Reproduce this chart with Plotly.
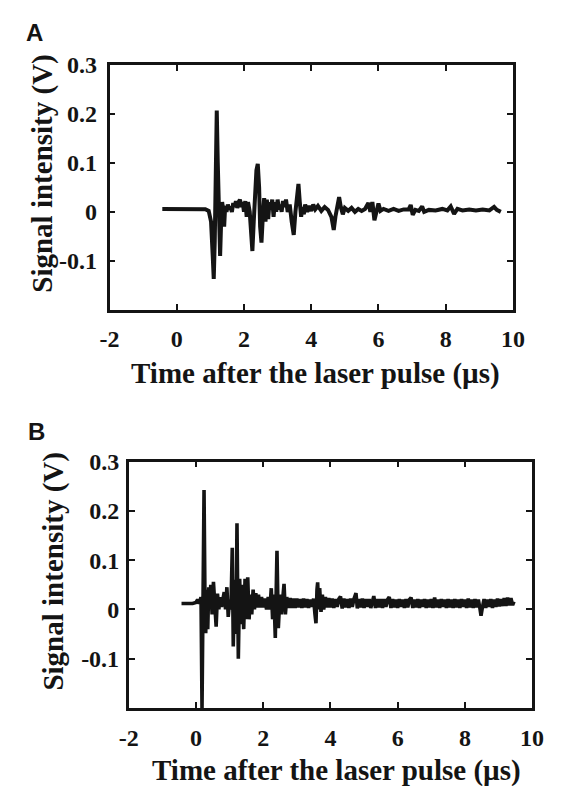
import plotly.graph_objects as go

# ---------------- data ----------------
a_time = [-0.43, -0.2, 0.2, 0.6, 0.85, 0.95, 1.02, 1.07, 1.10, 1.13, 1.16, 1.19, 1.22, 1.25, 1.29,
          1.32, 1.35, 1.38, 1.41, 1.44, 1.48, 1.52, 1.56, 1.60, 1.64, 1.68, 1.72, 1.76, 1.80, 1.84,
          1.88, 1.92, 1.96, 2.00, 2.04, 2.08, 2.12, 2.17, 2.21, 2.25, 2.29, 2.33, 2.37, 2.41, 2.45,
          2.48, 2.52, 2.56, 2.60, 2.64, 2.68, 2.72, 2.76, 2.80, 2.84, 2.88, 2.92, 2.96, 3.00, 3.04,
          3.08, 3.12, 3.16, 3.20, 3.25, 3.30, 3.36, 3.42, 3.48, 3.53, 3.58, 3.62, 3.66, 3.70, 3.74,
          3.78, 3.82, 3.88, 3.94, 4.00, 4.06, 4.12, 4.20, 4.30, 4.40, 4.50, 4.60, 4.67, 4.72, 4.78,
          4.83, 4.88, 4.94, 5.00, 5.10, 5.20, 5.30, 5.40, 5.50, 5.60, 5.70, 5.76, 5.82, 5.88, 5.94,
          6.00, 6.06, 6.15, 6.30, 6.45, 6.60, 6.75, 6.90, 6.96, 7.02, 7.10, 7.20, 7.30, 7.36, 7.50,
          7.70, 7.90, 8.05, 8.15, 8.25, 8.35, 8.50, 8.70, 8.90, 9.10, 9.30, 9.44, 9.52, 9.64]
a_signal = [0.006, 0.0062, 0.006, 0.006, 0.0055, 0.002, -0.02, -0.09, -0.137, -0.06, 0.10, 0.207, 0.10, -0.02, -0.09,
            -0.02, 0.02, 0.005, -0.03, 0.012, 0.0, 0.015, 0.005, 0.01, 0.0, 0.018, 0.01, 0.022, 0.008, 0.02,
            0.025, 0.01, 0.02, 0.0, 0.022, -0.01, 0.02, 0.0, -0.04, -0.08, -0.02, 0.05, 0.085, 0.098, 0.05,
            -0.03, -0.063, -0.01, 0.028, -0.02, 0.025, -0.015, 0.02, 0.005, 0.025, -0.01, 0.02, 0.0, 0.025, 0.005,
            0.015, 0.0, 0.022, 0.01, 0.025, 0.0, 0.015, -0.02, -0.047, 0.0, 0.045, 0.057, 0.02, -0.01, 0.01,
            -0.005, 0.015, 0.0, 0.012, 0.002, 0.015, 0.005, 0.012, 0.002, 0.01, 0.004, -0.01, -0.037, -0.01, 0.02,
            0.03, 0.01, -0.005, 0.008, 0.002, 0.008, 0.0, 0.006, 0.002, 0.006, 0.018, 0.0, 0.02, -0.017, 0.0,
            0.017, 0.002, 0.006, 0.002, 0.006, 0.002, 0.005, 0.005, 0.014, -0.006, 0.004, 0.002, 0.011, 0.0, 0.004,
            0.003, 0.006, 0.003, 0.011, -0.004, 0.006, 0.003, 0.005, 0.003, 0.005, 0.003, 0.01, 0.004, 0.0]

b_time = [-0.43, -0.3, -0.1, 0.0, 0.05, 0.10, 0.15, 0.18, 0.21, 0.24, 0.27, 0.29, 0.32, 0.35, 0.38,
          0.41, 0.44, 0.48, 0.52, 0.56, 0.60, 0.64, 0.68, 0.72, 0.76, 0.80, 0.84, 0.88, 0.92, 0.96,
          1.00, 1.04, 1.08, 1.11, 1.15, 1.19, 1.22, 1.26, 1.30, 1.34, 1.38, 1.42, 1.46, 1.50, 1.54,
          1.58, 1.62, 1.66, 1.70, 1.74, 1.78, 1.82, 1.86, 1.90, 1.95, 2.00, 2.05, 2.10, 2.15, 2.20,
          2.24, 2.28, 2.32, 2.36, 2.41, 2.45, 2.50, 2.54, 2.58, 2.62, 2.66, 2.70, 2.75, 2.80, 2.85,
          2.90, 2.95, 3.00, 3.05, 3.10, 3.15, 3.20, 3.25, 3.30, 3.35, 3.40, 3.45, 3.50, 3.54, 3.57,
          3.60, 3.62, 3.65, 3.68, 3.72, 3.76, 3.80, 3.85, 3.90, 3.95, 4.00, 4.05, 4.10, 4.15, 4.20,
          4.25, 4.30, 4.35, 4.40, 4.45, 4.50, 4.55, 4.60, 4.65, 4.70, 4.76, 4.80, 4.85, 4.90, 4.95,
          5.00, 5.05, 5.10, 5.15, 5.20, 5.25, 5.29, 5.34, 5.40, 5.45, 5.50, 5.55, 5.60, 5.65, 5.70,
          5.75, 5.80, 5.85, 5.90, 5.95, 6.00, 6.05, 6.10, 6.15, 6.20, 6.25, 6.30, 6.35, 6.40, 6.45,
          6.50, 6.55, 6.60, 6.65, 6.70, 6.75, 6.80, 6.85, 6.90, 6.95, 7.00, 7.05, 7.10, 7.15, 7.20,
          7.25, 7.30, 7.35, 7.40, 7.45, 7.50, 7.55, 7.60, 7.65, 7.70, 7.75, 7.80, 7.85, 7.90, 7.95,
          8.00, 8.05, 8.10, 8.15, 8.20, 8.25, 8.30, 8.35, 8.40, 8.45, 8.48, 8.52, 8.57, 8.62, 8.67,
          8.72, 8.77, 8.82, 8.87, 8.92, 8.97, 9.02, 9.07, 9.12, 9.17, 9.22, 9.27, 9.32, 9.37, 9.42,
          9.46]
b_signal = [0.012, 0.012, 0.012, 0.014, 0.02, 0.012, 0.025, -0.2, 0.0, 0.242, 0.0, -0.048, 0.04, -0.04, 0.045,
            0.0, 0.05, -0.01, 0.056, 0.0, -0.035, 0.032, 0.0, 0.025, 0.005, 0.02, 0.035, 0.0, 0.045, -0.015,
            0.02, 0.0, 0.125, -0.075, 0.06, -0.05, 0.175, -0.1, 0.062, -0.03, 0.05, -0.04, 0.062, -0.02, 0.065,
            -0.02, 0.03, -0.01, 0.04, 0.0, 0.033, 0.004, 0.03, 0.004, 0.025, 0.004, 0.022, 0.0, 0.025, 0.0,
            0.043, -0.02, 0.03, -0.058, 0.119, -0.038, 0.03, -0.01, 0.02, 0.052, -0.01, 0.025, 0.003, 0.023, 0.003,
            0.022, 0.003, 0.022, 0.004, 0.021, 0.003, 0.022, 0.004, 0.021, 0.003, 0.02, 0.005, 0.022, -0.01, -0.028,
            0.04, 0.055, 0.0, 0.043, -0.005, 0.03, 0.0, 0.025, 0.004, 0.023, 0.004, 0.022, 0.003, 0.021, 0.005,
            0.021, 0.026, 0.002, 0.022, 0.004, 0.021, 0.003, 0.022, 0.005, 0.021, 0.033, 0.002, 0.021, 0.004, 0.022,
            0.003, 0.021, 0.005, 0.021, 0.003, 0.021, 0.027, 0.003, 0.021, 0.004, 0.021, 0.003, 0.021, 0.005, 0.02,
            0.025, 0.003, 0.021, 0.004, 0.02, 0.003, 0.021, 0.005, 0.02, 0.003, 0.021, 0.004, 0.02, 0.024, 0.003,
            0.02, 0.004, 0.021, 0.003, 0.02, 0.005, 0.021, 0.003, 0.02, 0.004, 0.021, 0.003, 0.024, 0.004, 0.02,
            0.003, 0.021, 0.005, 0.02, 0.003, 0.021, 0.004, 0.02, 0.003, 0.021, 0.004, 0.02, 0.003, 0.021, 0.005,
            0.02, 0.003, 0.022, 0.004, 0.02, 0.003, 0.021, 0.004, 0.02, 0.001, -0.013, 0.004, 0.021, 0.003, 0.02,
            0.005, 0.021, 0.003, 0.02, 0.005, 0.022, 0.006, 0.021, 0.007, 0.023, 0.007, 0.024, 0.008, 0.023, 0.009,
            0.016]

x_ticks = [-2, 0, 2, 4, 6, 8, 10]
x_ticktext = ["-2", "0", "2", "4", "6", "8", "10"]
y_ticks = [-0.1, 0, 0.1, 0.2, 0.3]
y_ticktext = ["-0.1", "0", "0.1", "0.2", "0.3"]

x_title = "Time after the laser pulse (µs)"
y_title = "Signal intensity (V)"
panel_labels = ["A", "B"]

# ---------------- figure ----------------
# the page body keeps its default 8 px margin, so the figure is placed 8 px in
OFF = 8
VW, VH = 564, 786
W, H = VW - OFF, VH - OFF
INK = "#141414"
SERIF = "Liberation Serif"

fig = go.Figure()
fig.add_trace(go.Scatter(x=a_time, y=a_signal, mode="lines",
                         line=dict(color=INK, width=4.0), xaxis="x", yaxis="y",
                         showlegend=False, hoverinfo="skip"))
fig.add_trace(go.Scatter(x=b_time, y=b_signal, mode="lines",
                         line=dict(color=INK, width=3.6), xaxis="x2", yaxis="y2",
                         showlegend=False, hoverinfo="skip"))


def px_x(p):
    return (p - OFF) / W


def px_y(p):
    return 1 - (p - OFF) / H


def xaxis_style(domain, anchor):
    return dict(domain=domain, anchor=anchor, range=[-2, 10],
                tickmode="array", tickvals=x_ticks, ticktext=x_ticktext,
                ticks="inside", ticklen=6, tickwidth=2, tickcolor=INK,
                showline=True, linewidth=2.6, linecolor=INK, mirror="ticks",
                showgrid=False, zeroline=False, ticklabelstandoff=6,
                tickfont=dict(family=SERIF, size=24, color=INK, weight="bold"))


def yaxis_style(domain, anchor, standoff):
    return dict(domain=domain, anchor=anchor, range=[-0.2, 0.3],
                tickmode="array", tickvals=y_ticks, ticktext=y_ticktext,
                ticks="inside", ticklen=6, tickwidth=2, tickcolor=INK,
                showline=True, linewidth=2.6, linecolor=INK, mirror="ticks",
                showgrid=False, zeroline=False, ticklabelstandoff=standoff,
                tickfont=dict(family=SERIF, size=24, color=INK, weight="bold"))


fig.update_layout(
    width=W, height=H, autosize=False,
    margin=dict(l=0, r=0, t=0, b=0),
    paper_bgcolor="white", plot_bgcolor="white",
    xaxis=xaxis_style([px_x(103.3), px_x(523.3)], "y"),
    yaxis=yaxis_style([px_y(301.7), px_y(52.7)], "x", 5),
    xaxis2=xaxis_style([px_x(123.3), px_x(543.3)], "y2"),
    yaxis2=yaxis_style([px_y(706.7), px_y(456.0)], "x2", 2),
)

title_font = dict(family=SERIF, size=29, color=INK, weight="bold")
label_font = dict(family="Liberation Sans", size=24, color=INK, weight="bold")
ann = []
ann.append(dict(text=y_title, textangle=-90, x=px_x(33.5), y=px_y(162.8)))
ann.append(dict(text=y_title, textangle=-90, x=px_x(45.4), y=px_y(568.0)))
ann.append(dict(text=x_title, x=px_x(318.0), y=px_y(366.7)))
ann.append(dict(text=x_title, x=px_x(339.5), y=px_y(770.5)))
for a in ann:
    a.update(xref="paper", yref="paper", xanchor="center", yanchor="middle",
             showarrow=False, font=title_font)
ann.append(dict(text=panel_labels[0], x=px_x(25.5), y=px_y(20.0), xref="paper", yref="paper",
                xanchor="center", yanchor="middle", showarrow=False, font=label_font))
ann.append(dict(text=panel_labels[1], x=px_x(27.5), y=px_y(425.0), xref="paper", yref="paper",
                xanchor="center", yanchor="middle", showarrow=False, font=label_font))
fig.update_layout(annotations=ann)

fig.write_html("out.html")
